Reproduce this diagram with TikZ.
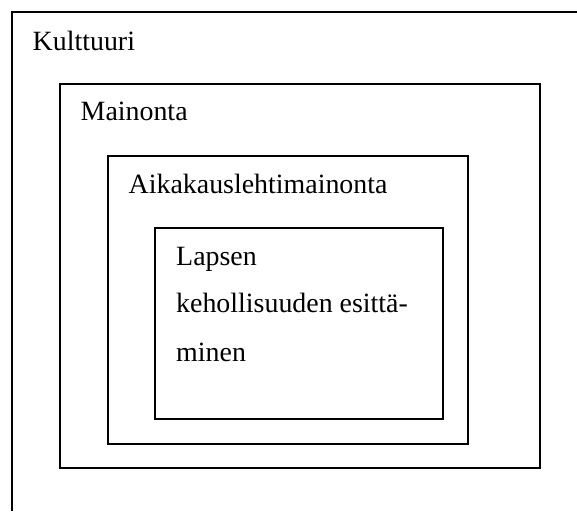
\documentclass[tikz,border=0pt]{standalone}
\usepackage{fontspec}
\setmainfont{Liberation Serif}
\begin{document}
\begin{tikzpicture}[x=1pt,y=-1pt,
  frame/.style={draw=black,line width=2pt},
  label/.style={anchor=base west,inner sep=0pt,font=\fontsize{27.9}{48}\selectfont}]
\useasboundingbox (0,0) rectangle (577,511);
% outermost frame runs off the right and bottom edges
\draw[frame] (12,511) -- (12,12) -- (577,12);
\node[label] (kult) at (32.5,50) {Kulttuuri};
% nested frames
\draw[frame] (60,84) rectangle (540,468);
\node[label] (main) at (80.5,120.5) {Mainonta};
\draw[frame] (108,156) rectangle (468,444);
\node[label] (aika) at (128.5,193) {Aikakauslehtimainonta};
\draw[frame] (155,228) rectangle (443,419);
\node[label] (l1) at (176,265) {Lapsen};
\node[label] (l2) at (176,312.5) {kehollisuuden esittä-};
\node[label] (l3) at (176,361.5) {minen};
\end{tikzpicture}
\end{document}
